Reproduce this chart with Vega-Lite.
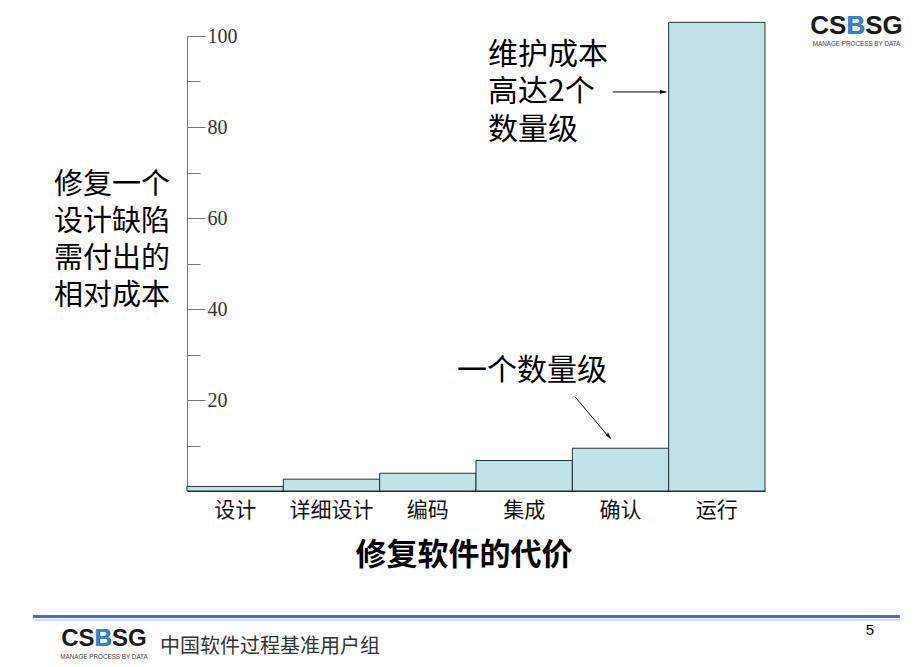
{
  "$schema": "https://vega.github.io/schema/vega-lite/v6.json",
  "width": 578,
  "height": 455,
  "autosize": {"type": "none"},
  "padding": {"left": 187, "top": 36, "right": 155, "bottom": 176},
  "background": "white",
  "config": {"view": {"stroke": null}, "font": "Noto Sans CJK SC"},
  "resolve": {"scale": {"x": "independent", "y": "independent"}},
  "layer": [
    {
      "data": {"values": [
        {"stage": "设计", "cost": 1},
        {"stage": "详细设计", "cost": 2.6},
        {"stage": "编码", "cost": 3.9},
        {"stage": "集成", "cost": 6.7},
        {"stage": "确认", "cost": 9.4},
        {"stage": "运行", "cost": 103}
      ]},
      "mark": {"type": "bar", "fill": "#bfe3e6", "stroke": "#203434", "strokeWidth": 1},
      "encoding": {
        "x": {
          "field": "stage", "type": "nominal", "sort": null,
          "scale": {"paddingInner": 0, "paddingOuter": 0},
          "axis": {
            "title": "修复软件的代价", "titleFont": "Noto Sans CJK SC", "titleFontSize": 31,
            "titleFontWeight": "bold", "titleColor": "#000", "titleX": 276.5, "titleY": 64,
            "titleAlign": "center", "titleBaseline": "middle",
            "labelAngle": 0, "labelFont": "Noto Sans CJK SC", "labelFontSize": 21,
            "labelColor": "#111", "labelPadding": 8, "labelBaseline": "top",
            "ticks": false, "domainColor": "#222"
          }
        },
        "y": {
          "field": "cost", "type": "quantitative",
          "scale": {"domain": [0, 100], "nice": false},
          "axis": {
            "title": ["修复一个", "设计缺陷", "需付出的", "相对成本"],
            "titleFont": "Noto Sans CJK SC", "titleFontSize": 29, "titleFontWeight": "normal",
            "titleColor": "#000", "titleAngle": 0, "titleAlign": "center", "titleBaseline": "middle",
            "titleX": -75.5, "titleY": 148, "titleLineHeight": 37,
            "values": [10, 20, 30, 40, 50, 60, 70, 80, 90, 100],
            "labelExpr": "datum.value % 20 === 0 ? datum.label : ''",
            "tickSize": {"condition": {"test": "datum.value % 20 === 0", "value": -18}, "value": -13},
            "tickColor": "#777", "domainColor": "#777", "grid": false,
            "labelFont": "Liberation Serif", "labelFontSize": 20, "labelColor": "#333",
            "labelAlign": "left", "labelBaseline": "middle", "labelPadding": -2,
            "labelFlush": false, "labelOverlap": false
          }
        }
      }
    },
    {
      "layer": [
        {
          "data": {"values": [
            {"label": "维护成本\n高达2个\n数量级", "px": 3.125, "py": 95.9},
            {"label": "一个数量级", "px": 2.803, "py": 26.3}
          ]},
          "mark": {"type": "text", "align": "left", "baseline": "middle", "lineBreak": "\n", "lineHeight": 37.5, "font": "Noto Sans CJK SC", "fontSize": 30, "color": "#000"},
          "encoding": {
            "x": {"field": "px", "type": "quantitative", "scale": {"domain": [0, 6], "nice": false, "zero": false}, "axis": null},
            "y": {"field": "py", "type": "quantitative", "scale": {"domain": [0, 100], "nice": false}, "axis": null},
            "text": {"field": "label"}
          }
        },
        {
          "data": {"values": [
            {"px": 4.42, "px2": 4.96, "py": 87.7, "py2": 87.7},
            {"px": 4.028, "px2": 4.39, "py": 20.7, "py2": 11.6}
          ]},
          "mark": {"type": "rule", "color": "#000", "strokeWidth": 1},
          "encoding": {
            "x": {"field": "px", "type": "quantitative", "scale": {"domain": [0, 6], "nice": false, "zero": false}, "axis": null},
            "x2": {"field": "px2"},
            "y": {"field": "py", "type": "quantitative", "scale": {"domain": [0, 100], "nice": false}, "axis": null},
            "y2": {"field": "py2"}
          }
        },
        {
          "data": {"values": [
            {"px": 4.945, "py": 87.7, "dir": 90},
            {"px": 4.38, "py": 12.0, "dir": 139}
          ]},
          "mark": {"type": "point", "shape": "M0,-1L0.45,0.8L-0.45,0.8Z", "filled": true, "fill": "#000", "stroke": null, "opacity": 1, "size": 70},
          "encoding": {
            "x": {"field": "px", "type": "quantitative", "scale": {"domain": [0, 6], "nice": false, "zero": false}, "axis": null},
            "y": {"field": "py", "type": "quantitative", "scale": {"domain": [0, 100], "nice": false}, "axis": null},
            "angle": {"field": "dir", "type": "quantitative", "scale": null}
          }
        },
        {
          "data": {"values": [
            {"px": -1.6, "px2": 7.4, "py": -27.58}
          ]},
          "mark": {"type": "rule", "color": "#4b6cc1", "strokeWidth": 3},
          "encoding": {
            "x": {"field": "px", "type": "quantitative", "scale": {"domain": [0, 6], "nice": false, "zero": false}, "axis": null},
            "x2": {"field": "px2"},
            "y": {"field": "py", "type": "quantitative", "scale": {"domain": [0, 100], "nice": false}, "axis": null}
          }
        },
        {
          "data": {"values": [
            {"px": -1.6, "px2": 7.4, "py": -28.35}
          ]},
          "mark": {"type": "rule", "color": "#a9b8dc", "strokeWidth": 1},
          "encoding": {
            "x": {"field": "px", "type": "quantitative", "scale": {"domain": [0, 6], "nice": false, "zero": false}, "axis": null},
            "x2": {"field": "px2"},
            "y": {"field": "py", "type": "quantitative", "scale": {"domain": [0, 100], "nice": false}, "axis": null}
          }
        },
        {
          "data": {"values": [
            {"t": "CSBSG", "px": 6.95, "py": 102.2}
          ]},
          "mark": {"type": "text", "align": "center", "baseline": "middle", "font": "Liberation Sans", "fontWeight": "bold", "fontSize": 26, "color": "#1a1a1a"},
          "encoding": {
            "x": {"field": "px", "type": "quantitative", "scale": {"domain": [0, 6], "nice": false, "zero": false}, "axis": null},
            "y": {"field": "py", "type": "quantitative", "scale": {"domain": [0, 100], "nice": false}, "axis": null},
            "text": {"field": "t"}
          }
        },
        {
          "data": {"values": [
            {"t": "B", "px": 6.943, "py": 102.2}
          ]},
          "mark": {"type": "text", "align": "center", "baseline": "middle", "font": "Liberation Sans", "fontWeight": "bold", "fontSize": 26, "color": "#2e86d6"},
          "encoding": {
            "x": {"field": "px", "type": "quantitative", "scale": {"domain": [0, 6], "nice": false, "zero": false}, "axis": null},
            "y": {"field": "py", "type": "quantitative", "scale": {"domain": [0, 100], "nice": false}, "axis": null},
            "text": {"field": "t"}
          }
        },
        {
          "data": {"values": [
            {"t": "CSBSG", "px": -0.862, "py": -32.5}
          ]},
          "mark": {"type": "text", "align": "center", "baseline": "middle", "font": "Liberation Sans", "fontWeight": "bold", "fontSize": 24, "color": "#1a1a1a"},
          "encoding": {
            "x": {"field": "px", "type": "quantitative", "scale": {"domain": [0, 6], "nice": false, "zero": false}, "axis": null},
            "y": {"field": "py", "type": "quantitative", "scale": {"domain": [0, 100], "nice": false}, "axis": null},
            "text": {"field": "t"}
          }
        },
        {
          "data": {"values": [
            {"t": "B", "px": -0.869, "py": -32.5}
          ]},
          "mark": {"type": "text", "align": "center", "baseline": "middle", "font": "Liberation Sans", "fontWeight": "bold", "fontSize": 24, "color": "#2e86d6"},
          "encoding": {
            "x": {"field": "px", "type": "quantitative", "scale": {"domain": [0, 6], "nice": false, "zero": false}, "axis": null},
            "y": {"field": "py", "type": "quantitative", "scale": {"domain": [0, 100], "nice": false}, "axis": null},
            "text": {"field": "t"}
          }
        },
        {
          "data": {"values": [
            {"t": "MANAGE PROCESS BY DATA", "px": 6.95, "py": 98.2},
            {"t": "MANAGE PROCESS BY DATA", "px": -0.862, "py": -36.5}
          ]},
          "mark": {"type": "text", "align": "center", "baseline": "middle", "font": "Liberation Sans", "fontSize": 6.3, "color": "#444"},
          "encoding": {
            "x": {"field": "px", "type": "quantitative", "scale": {"domain": [0, 6], "nice": false, "zero": false}, "axis": null},
            "y": {"field": "py", "type": "quantitative", "scale": {"domain": [0, 100], "nice": false}, "axis": null},
            "text": {"field": "t"}
          }
        },
        {
          "data": {"values": [
            {"t": "中国软件过程基准用户组", "px": -0.28, "py": -34.3}
          ]},
          "mark": {"type": "text", "align": "left", "baseline": "middle", "font": "Noto Sans CJK SC", "fontSize": 20, "color": "#333"},
          "encoding": {
            "x": {"field": "px", "type": "quantitative", "scale": {"domain": [0, 6], "nice": false, "zero": false}, "axis": null},
            "y": {"field": "py", "type": "quantitative", "scale": {"domain": [0, 100], "nice": false}, "axis": null},
            "text": {"field": "t"}
          }
        },
        {
          "data": {"values": [
            {"t": "5", "px": 7.09, "py": -30.5}
          ]},
          "mark": {"type": "text", "align": "center", "baseline": "middle", "font": "Liberation Sans", "fontSize": 15, "color": "#000"},
          "encoding": {
            "x": {"field": "px", "type": "quantitative", "scale": {"domain": [0, 6], "nice": false, "zero": false}, "axis": null},
            "y": {"field": "py", "type": "quantitative", "scale": {"domain": [0, 100], "nice": false}, "axis": null},
            "text": {"field": "t"}
          }
        }
      ]
    }
  ]
}
